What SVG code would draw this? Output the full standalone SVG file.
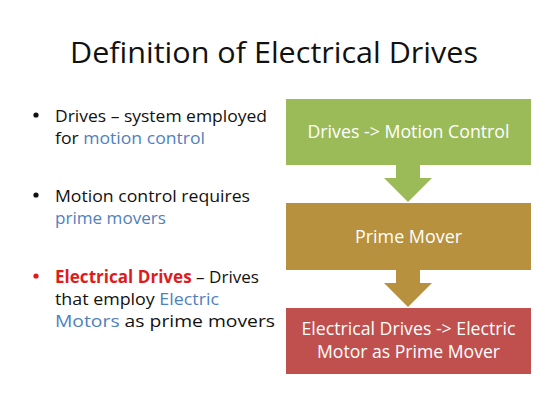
<svg xmlns="http://www.w3.org/2000/svg" width="560" height="420" viewBox="0 0 560 420">
<style>
.t{font-family:"Open Sans","Liberation Sans",sans-serif;}
.title{font-size:29px;fill:#111;}
.body{font-size:17px;fill:#111;}
.blue{fill:#4f81bd;}
.red{fill:#e01b1b;font-weight:bold;}
.box{font-size:17.5px;fill:#fff;text-anchor:middle;}
</style>
<rect width="560" height="420" fill="#fff"/>
<text class="t title" x="70" y="63" textLength="408" lengthAdjust="spacingAndGlyphs">Definition of Electrical Drives</text>
<g id="bullets">
<circle cx="36" cy="115" r="2.6" fill="#111"/>
<text class="t body" x="55" y="122" textLength="212" lengthAdjust="spacingAndGlyphs">Drives – system employed</text>
<text class="t body" x="55" y="144" textLength="150" lengthAdjust="spacingAndGlyphs">for <tspan class="blue">motion control</tspan></text>
<circle cx="36" cy="195" r="2.6" fill="#111"/>
<text class="t body" x="55" y="202" textLength="195" lengthAdjust="spacingAndGlyphs">Motion control requires</text>
<text class="t body blue" x="55" y="224" textLength="111" lengthAdjust="spacingAndGlyphs">prime movers</text>
<circle cx="36" cy="276" r="2.6" fill="#e01b1b"/>
<text class="t body" x="55" y="283" textLength="204" lengthAdjust="spacingAndGlyphs"><tspan class="red">Electrical Drives</tspan> – Drives</text>
<text class="t body" x="55" y="305" textLength="164" lengthAdjust="spacingAndGlyphs">that employ <tspan class="blue">Electric</tspan></text>
<text class="t body" x="55" y="327" textLength="220" lengthAdjust="spacingAndGlyphs"><tspan class="blue">Motors</tspan> as prime movers</text>
</g>
<g id="connectors">
<polygon points="396,162 420,162 420,178 432,178 408,202 384,178 396,178" fill="#9bbb59"/>
<polygon points="396,268 420,268 420,283 432,283 408,307 384,283 396,283" fill="#b8913f"/>
</g>
<g id="node-motion">
<rect x="286" y="99" width="245" height="66" fill="#9bbb59"/>
<text class="t box" x="408.5" y="138" textLength="202" lengthAdjust="spacingAndGlyphs">Drives -&gt; Motion Control</text>
</g>
<g id="node-prime">
<rect x="286" y="203" width="245" height="67" fill="#b8913f"/>
<text class="t box" x="408.5" y="243" textLength="107" lengthAdjust="spacingAndGlyphs">Prime Mover</text>
</g>
<g id="node-electric">
<rect x="286" y="308" width="245" height="66" fill="#c0504d"/>
<text class="t box" x="408.5" y="335" textLength="214" lengthAdjust="spacingAndGlyphs">Electrical Drives -&gt; Electric</text>
<text class="t box" x="408.5" y="358" textLength="183" lengthAdjust="spacingAndGlyphs">Motor as Prime Mover</text>
</g>
</svg>
